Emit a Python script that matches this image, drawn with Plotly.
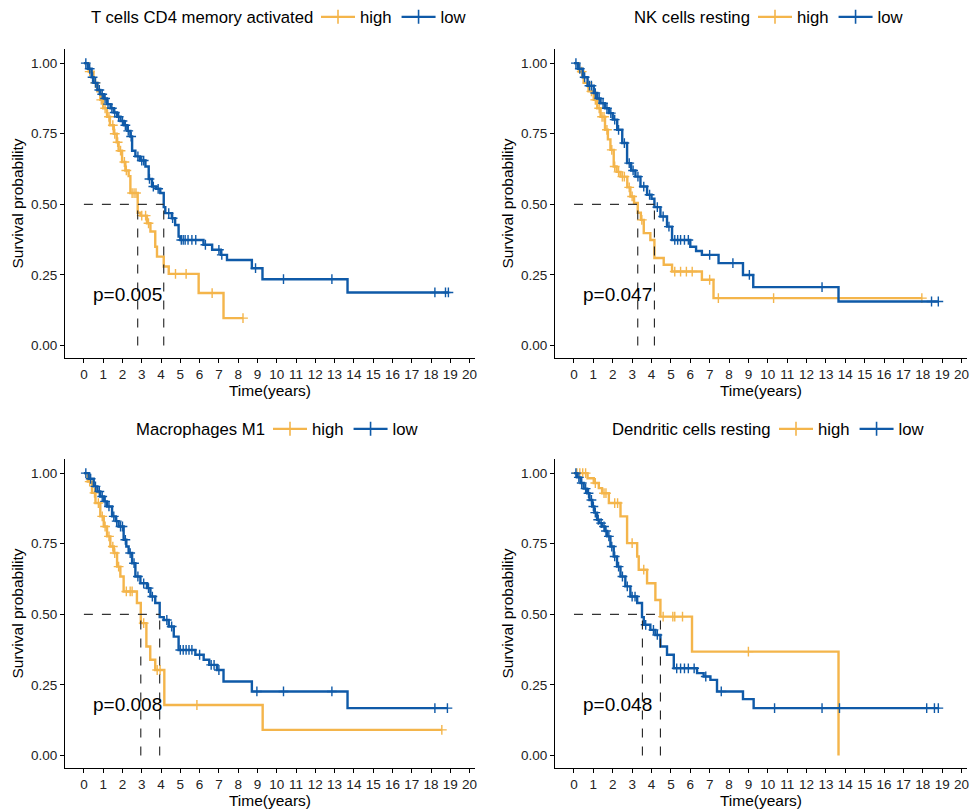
import plotly.graph_objects as go

# ---------------- data ----------------
panel_titles = ["T cells CD4 memory activated", "NK cells resting",
                "Macrophages M1", "Dendritic cells resting"]
p_values = ["p=0.005", "p=0.047", "p=0.008", "p=0.048"]
group_names = ["high", "low"]
y_ticks = [0.0, 0.25, 0.5, 0.75, 1.0]
x_ticks = list(range(0, 21))

# Panel 1: T cells CD4 memory activated
p1_high_t = [0, 0.25, 0.5, 0.7, 0.85, 1.0, 1.2, 1.35, 1.55, 1.7, 1.8, 1.98, 2.15, 2.32, 2.41,
             2.79, 2.93, 3.27, 3.45, 3.7, 3.79, 4.14, 4.4, 5.95, 7.24]
p1_high_s = [1, 0.97, 0.93, 0.9, 0.87, 0.84, 0.81, 0.78, 0.75, 0.72, 0.69, 0.65, 0.62, 0.6, 0.54,
             0.47, 0.46, 0.433, 0.404, 0.35, 0.315, 0.28, 0.254, 0.186, 0.097]
p1_high_c = [0.3, 0.6, 0.9, 1.1, 1.3, 1.5, 1.6, 1.75, 1.9, 2.1, 2.2, 2.5, 2.6, 2.7, 3.0, 3.2,
             3.35, 4.75, 5.3, 6.65, 8.25]
p1_low_t = [0, 0.2, 0.4, 0.5, 0.7, 0.85, 1.03, 1.2, 1.38, 1.55, 1.72, 1.9, 2.07, 2.25, 2.41, 2.5,
            2.67, 2.9, 3.19, 3.36, 3.53, 3.75, 3.96, 4.14, 4.22, 4.56, 4.73, 4.91, 5.0, 6.2, 6.65,
            7.1, 7.42, 8.71, 9.26, 13.67]
p1_low_s = [1, 0.98, 0.95, 0.93, 0.905, 0.89, 0.875, 0.855, 0.84, 0.825, 0.81, 0.795, 0.78, 0.76,
            0.74, 0.69, 0.67, 0.655, 0.634, 0.59, 0.563, 0.555, 0.54, 0.49, 0.469, 0.451, 0.427,
            0.386, 0.374, 0.357, 0.339, 0.321, 0.303, 0.274, 0.235, 0.188]
p1_low_c = [0.1, 0.3, 0.45, 0.6, 0.8, 0.95, 1.1, 1.25, 1.45, 1.6, 1.8, 2.0, 2.15, 2.3, 2.45, 2.8,
            3.0, 3.1, 3.4, 3.6, 3.85, 4.4, 4.6, 5.05, 5.15, 5.25, 5.4, 5.6, 5.8, 6.3, 7.0, 7.15,
            8.9, 10.35, 12.86, 18.2, 18.75, 18.9]
p1_medians = [2.79, 4.14]

# Panel 2: NK cells resting
p2_high_t = [0, 0.25, 0.5, 0.75, 1.02, 1.2, 1.37, 1.6, 1.75, 1.88, 2.05, 2.2, 2.4, 2.75, 2.91,
             3.1, 3.29, 3.45, 3.6, 3.94, 4.15, 4.63, 5.06, 6.6, 7.2]
p2_high_s = [1, 0.97, 0.93, 0.9, 0.87, 0.84, 0.81, 0.764, 0.73, 0.693, 0.634, 0.615, 0.598, 0.56,
             0.528, 0.505, 0.47, 0.445, 0.398, 0.374, 0.31, 0.286, 0.262, 0.233, 0.168]
p2_high_c = [0.4, 0.7, 0.9, 1.1, 1.3, 1.45, 1.55, 1.7, 1.95, 2.1, 2.3, 2.5, 2.6, 2.85, 3.0, 3.5,
             5.2, 5.5, 5.8, 6.1, 7.0, 7.45, 10.3, 17.95]
p2_low_t = [0, 0.2, 0.45, 0.7, 1.02, 1.2, 1.37, 1.6, 1.8, 2.0, 2.23, 2.49, 2.74, 2.95, 3.17, 3.43,
            3.77, 4.0, 4.15, 4.46, 4.8, 5.06, 6.0, 6.3, 6.6, 7.46, 8.72, 9.25, 13.65]
p2_low_s = [1, 0.98, 0.95, 0.92, 0.894, 0.875, 0.858, 0.84, 0.823, 0.8, 0.764, 0.717, 0.646, 0.62,
            0.598, 0.563, 0.534, 0.52, 0.49, 0.457, 0.421, 0.374, 0.35, 0.335, 0.321, 0.292, 0.25,
            0.207, 0.156]
p2_low_c = [0.1, 0.3, 0.55, 0.8, 0.9, 1.1, 1.3, 1.5, 1.7, 1.9, 2.1, 2.3, 2.6, 2.85, 3.05, 3.3,
            3.6, 3.9, 4.3, 4.6, 4.9, 5.2, 5.35, 5.5, 5.7, 5.9, 7.0, 8.2, 9.05, 12.8, 18.45, 18.8]
p2_medians = [3.29, 4.15]

# Panel 3: Macrophages M1
p3_high_t = [0, 0.2, 0.42, 0.6, 0.85, 1.03, 1.2, 1.37, 1.55, 1.72, 1.89, 2.06, 2.75, 2.95, 3.24,
             3.44, 3.7, 4.17, 9.27]
p3_high_s = [1, 0.97, 0.93, 0.894, 0.847, 0.811, 0.776, 0.74, 0.717, 0.669, 0.634, 0.581, 0.54,
             0.469, 0.386, 0.339, 0.303, 0.179, 0.091]
p3_high_c = [0.3, 0.55, 0.75, 0.95, 1.1, 1.3, 1.5, 1.6, 1.8, 2.2, 2.4, 2.5, 3.1, 3.8, 3.95,
             5.86, 18.56]
p3_low_t = [0, 0.25, 0.51, 0.7, 0.85, 1.05, 1.2, 1.46, 1.65, 1.8, 2.06, 2.2, 2.32, 2.5, 2.67,
            2.93, 3.27, 3.45, 3.7, 3.93, 4.14, 4.4, 4.66, 4.91, 5.78, 6.21, 6.5, 6.9, 7.24, 8.71,
            13.67]
p3_low_s = [1, 0.98, 0.953, 0.935, 0.917, 0.9, 0.882, 0.847, 0.83, 0.811, 0.764, 0.74, 0.717,
            0.681, 0.634, 0.61, 0.593, 0.563, 0.54, 0.49, 0.48, 0.457, 0.421, 0.374, 0.357, 0.339,
            0.321, 0.303, 0.262, 0.227, 0.168]
p3_low_c = [0.1, 0.35, 0.6, 0.8, 0.95, 1.1, 1.3, 1.55, 1.7, 1.9, 2.0, 2.15, 2.4, 2.6, 2.8, 3.1,
            3.35, 3.55, 4.3, 4.55, 5.0, 5.15, 5.3, 5.45, 5.6, 6.0, 6.6, 6.75, 7.0, 8.97, 10.35,
            12.86, 18.2, 18.85]
p3_medians = [2.95, 3.93]

# Panel 4: Dendritic cells resting
p4_high_t = [0, 0.7, 1.02, 1.28, 1.45, 1.8, 2.4, 2.74, 3.26, 3.34, 3.77, 4.2, 4.46, 6.09, 13.65]
p4_high_s = [1, 0.982, 0.965, 0.947, 0.929, 0.894, 0.847, 0.752, 0.705, 0.658, 0.61, 0.551,
             0.492, 0.368, 0.0]
p4_high_c = [0.15, 0.3, 0.45, 0.6, 1.1, 1.55, 1.65, 2.1, 2.25, 3.0, 3.6, 4.6, 5.1, 5.2, 5.6, 9.0]
p4_low_t = [0, 0.15, 0.34, 0.5, 0.68, 0.8, 0.94, 1.05, 1.19, 1.3, 1.45, 1.6, 1.71, 1.88, 2.05,
            2.22, 2.4, 2.65, 2.91, 3.26, 3.51, 3.6, 3.94, 4.2, 4.46, 4.8, 5.15, 6.35, 6.69, 7.04,
            7.38, 8.72, 9.27]
p4_low_s = [1, 0.985, 0.965, 0.945, 0.929, 0.905, 0.882, 0.86, 0.835, 0.823, 0.811, 0.795,
            0.776, 0.74, 0.705, 0.669, 0.634, 0.599, 0.563, 0.54, 0.49, 0.463, 0.445, 0.427,
            0.386, 0.357, 0.309, 0.292, 0.28, 0.268, 0.227, 0.2, 0.168]
p4_low_c = [0.1, 0.25, 0.4, 0.6, 0.75, 0.9, 1.0, 1.1, 1.25, 1.4, 1.55, 1.65, 1.8, 1.95, 2.1, 2.3,
            2.5, 2.75, 3.0, 3.15, 3.7, 4.1, 4.3, 5.3, 5.5, 5.7, 5.9, 6.2, 6.8, 7.6, 10.35, 12.8,
            13.7, 18.2, 18.6, 18.8]
p4_medians = [3.53, 4.46]

# ---------------- styling ----------------
COL_HIGH = "#F4B54B"
COL_LOW = "#0F5AA8"
FONT = "Arial, Liberation Sans, sans-serif"
W, H = 974, 810
LEG_FS = 16.7

panels = [
    dict(high=(p1_high_t, p1_high_s, p1_high_c), low=(p1_low_t, p1_low_s, p1_low_c), med=p1_medians),
    dict(high=(p2_high_t, p2_high_s, p2_high_c), low=(p2_low_t, p2_low_s, p2_low_c), med=p2_medians),
    dict(high=(p3_high_t, p3_high_s, p3_high_c), low=(p3_low_t, p3_low_s, p3_low_c), med=p3_medians),
    dict(high=(p4_high_t, p4_high_s, p4_high_c), low=(p4_low_t, p4_low_s, p4_low_c), med=p4_medians),
]

# plot-area boxes in pixels: (left, right, top, bottom)
boxes = [(65, 475, 49, 358), (555, 967, 49, 358), (65, 475, 459, 768), (555, 967, 459, 768)]
# legend header: (title right edge px, row centre px)
legend_rows = [(315, 17), (752, 17), (267, 429), (773, 429)]


def step_value(ts, ss, c):
    v = ss[0]
    for t, s in zip(ts, ss):
        if t <= c:
            v = s
    return v


fig = go.Figure()
layout = dict(width=W, height=H, plot_bgcolor="white", paper_bgcolor="white",
              margin=dict(l=0, r=0, t=0, b=0, autoexpand=False),
              font=dict(family=FONT, color="black"), showlegend=True)

for i, pan in enumerate(panels):
    n = i + 1
    xa = "x" if n == 1 else f"x{n}"
    ya = "y" if n == 1 else f"y{n}"
    lg = "legend" if n == 1 else f"legend{n}"
    l, r, t, b = boxes[i]

    for gname, col in zip(group_names, [COL_HIGH, COL_LOW]):
        ts, ss, cs = pan[gname]
        end_t = max(max(cs), ts[-1])
        lx = list(ts) + ([end_t] if end_t > ts[-1] else [])
        ly = list(ss) + ([ss[-1]] if end_t > ts[-1] else [])
        fig.add_trace(go.Scatter(x=lx, y=ly, mode="lines", line=dict(color=col, width=2.4, shape="hv"),
                                 xaxis=xa, yaxis=ya, showlegend=False, hoverinfo="skip"))
        fig.add_trace(go.Scatter(x=cs, y=[step_value(ts, ss, c) for c in cs], mode="markers",
                                 marker=dict(symbol="cross-thin", size=7, color=col,
                                             line=dict(color=col, width=1.4)),
                                 xaxis=xa, yaxis=ya, showlegend=False, hoverinfo="skip"))
        # legend entry
        fig.add_trace(go.Scatter(x=[None], y=[None], mode="lines+markers", name=gname,
                                 line=dict(color=col, width=2.4),
                                 marker=dict(symbol="cross-thin", size=10, color=col,
                                             line=dict(color=col, width=1.6)),
                                 xaxis=xa, yaxis=ya, legend=lg, showlegend=True))

    # median dashed lines
    meds = pan["med"]
    fig.add_trace(go.Scatter(x=[0, max(meds)], y=[0.5, 0.5], mode="lines",
                             line=dict(color="#333333", width=1.1, dash="dash"),
                             xaxis=xa, yaxis=ya, showlegend=False, hoverinfo="skip"))
    for m in meds:
        fig.add_trace(go.Scatter(x=[m, m], y=[0, 0.5], mode="lines",
                                 line=dict(color="#222222", width=1.1, dash="dash"),
                                 xaxis=xa, yaxis=ya, showlegend=False, hoverinfo="skip"))

    # p value
    fig.add_annotation(x=0.35, y=0.18, xref=xa, yref=ya, text=p_values[i], showarrow=False,
                       xanchor="left", yanchor="middle", font=dict(size=19, color="black", family=FONT))

    # legend header text
    tr, tc = legend_rows[i]
    fig.add_annotation(x=tr / W, y=1 - tc / H, xref="paper", yref="paper", text=panel_titles[i],
                       showarrow=False, xanchor="right", yanchor="middle",
                       font=dict(size=LEG_FS, color="black", family=FONT))

    xkey = "xaxis" if n == 1 else f"xaxis{n}"
    ykey = "yaxis" if n == 1 else f"yaxis{n}"
    layout[xkey] = dict(domain=[l / W, r / W], anchor=ya, range=[-0.98, 20.28], automargin=False,
                        tickvals=x_ticks, ticktext=[str(v) for v in x_ticks],
                        showline=True, linecolor="black", linewidth=1, ticks="outside",
                        ticklen=4, tickcolor="black", showgrid=False, zeroline=False,
                        tickfont=dict(size=13.5, color="#222222"),
                        title=dict(text="Time(years)", font=dict(size=15.5), standoff=1))
    layout[ykey] = dict(domain=[1 - b / H, 1 - t / H], anchor=xa, range=[-0.044, 1.05], automargin=False,
                        tickvals=y_ticks, ticktext=[f"{v:.2f}" for v in y_ticks],
                        showline=True, linecolor="black", linewidth=1, ticks="outside",
                        ticklen=4, tickcolor="black", showgrid=False, zeroline=False,
                        tickfont=dict(size=13.5, color="#222222"),
                        title=dict(text="Survival probability", font=dict(size=15.5), standoff=3))
    layout[lg] = dict(orientation="h", x=(tr + 1) / W, y=1 - tc / H, xanchor="left", yanchor="middle",
                      font=dict(size=LEG_FS), bgcolor="rgba(0,0,0,0)", itemwidth=34,
                      tracegroupgap=0)

fig.update_layout(**layout)
fig.write_html("out.html", config={"displayModeBar": False},
               post_script="document.body.style.margin='0';document.body.style.overflow='hidden';")
